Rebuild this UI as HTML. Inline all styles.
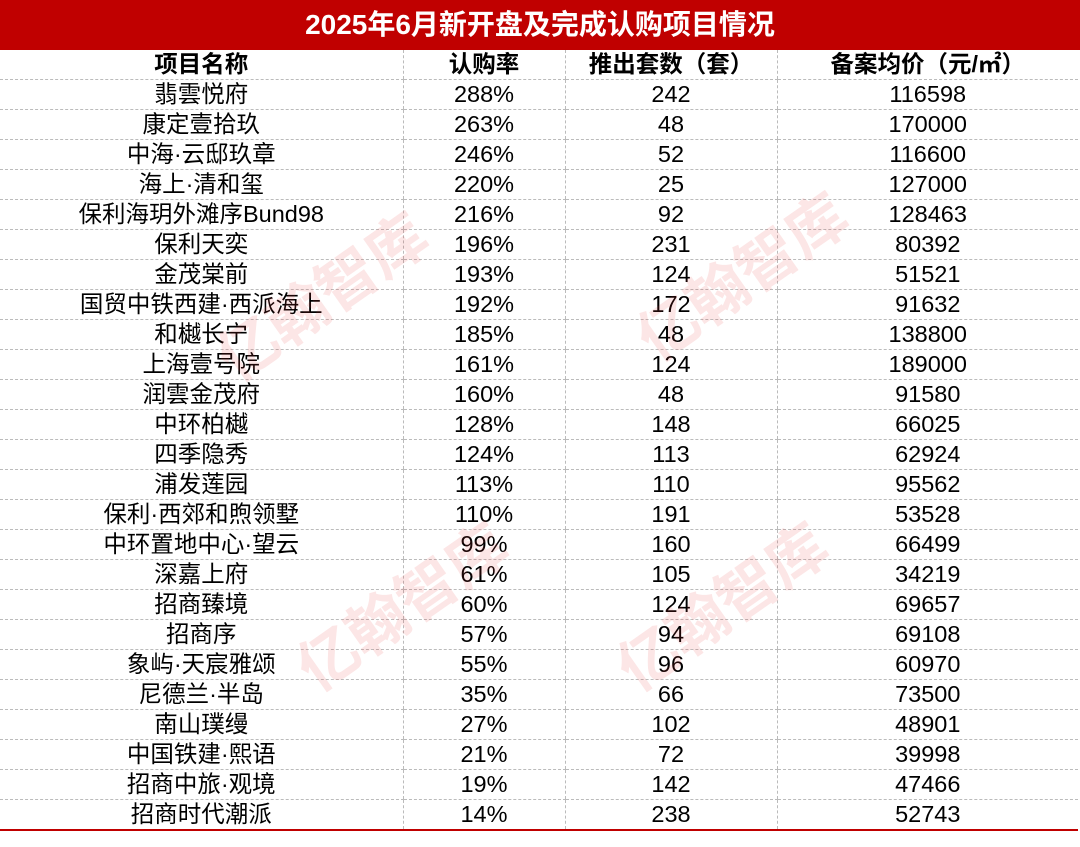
<!DOCTYPE html>
<html><head><meta charset="utf-8"><style>
body{margin:0;width:1080px;height:847px;background:#fff;overflow:hidden;position:relative;font-family:"Liberation Sans","Noto Sans CJK SC",sans-serif;}
.title{position:absolute;left:0;top:0;width:1080px;height:50px;background:#c00000;color:#fff;font-weight:bold;font-size:28px;line-height:50px;text-align:center;}
table{position:absolute;left:0;top:50px;border-collapse:collapse;width:1078px;table-layout:fixed;}
td{height:29px;padding:0;text-align:center;font-size:23.5px;line-height:29px;color:#000;border-bottom:1px dashed #bbb;border-left:1px dashed #bbb;white-space:nowrap;}
td:first-child{border-left:none;}
tr.h td{font-weight:bold;}
tr:last-child td{border-bottom:2px solid #c00000;}
.wm{position:absolute;color:rgba(230,60,60,0.13);font-weight:bold;font-size:60px;transform:rotate(-35deg);white-space:nowrap;pointer-events:none;}
</style></head><body>
<div class="title">2025年6月新开盘及完成认购项目情况</div>
<table>
<colgroup><col style="width:403px"><col style="width:162px"><col style="width:212px"><col style="width:301px"></colgroup>
<tr class="h"><td>项目名称</td><td>认购率</td><td>推出套数（套）</td><td>备案均价（元/㎡）</td></tr>
<tr><td>翡雲悦府</td><td>288%</td><td>242</td><td>116598</td></tr>
<tr><td>康定壹拾玖</td><td>263%</td><td>48</td><td>170000</td></tr>
<tr><td>中海·云邸玖章</td><td>246%</td><td>52</td><td>116600</td></tr>
<tr><td>海上·清和玺</td><td>220%</td><td>25</td><td>127000</td></tr>
<tr><td>保利海玥外滩序Bund98</td><td>216%</td><td>92</td><td>128463</td></tr>
<tr><td>保利天奕</td><td>196%</td><td>231</td><td>80392</td></tr>
<tr><td>金茂棠前</td><td>193%</td><td>124</td><td>51521</td></tr>
<tr><td>国贸中铁西建·西派海上</td><td>192%</td><td>172</td><td>91632</td></tr>
<tr><td>和樾长宁</td><td>185%</td><td>48</td><td>138800</td></tr>
<tr><td>上海壹号院</td><td>161%</td><td>124</td><td>189000</td></tr>
<tr><td>润雲金茂府</td><td>160%</td><td>48</td><td>91580</td></tr>
<tr><td>中环柏樾</td><td>128%</td><td>148</td><td>66025</td></tr>
<tr><td>四季隐秀</td><td>124%</td><td>113</td><td>62924</td></tr>
<tr><td>浦发莲园</td><td>113%</td><td>110</td><td>95562</td></tr>
<tr><td>保利·西郊和煦领墅</td><td>110%</td><td>191</td><td>53528</td></tr>
<tr><td>中环置地中心·望云</td><td>99%</td><td>160</td><td>66499</td></tr>
<tr><td>深嘉上府</td><td>61%</td><td>105</td><td>34219</td></tr>
<tr><td>招商臻境</td><td>60%</td><td>124</td><td>69657</td></tr>
<tr><td>招商序</td><td>57%</td><td>94</td><td>69108</td></tr>
<tr><td>象屿·天宸雅颂</td><td>55%</td><td>96</td><td>60970</td></tr>
<tr><td>尼德兰·半岛</td><td>35%</td><td>66</td><td>73500</td></tr>
<tr><td>南山璞缦</td><td>27%</td><td>102</td><td>48901</td></tr>
<tr><td>中国铁建·熙语</td><td>21%</td><td>72</td><td>39998</td></tr>
<tr><td>招商中旅·观境</td><td>19%</td><td>142</td><td>47466</td></tr>
<tr><td>招商时代潮派</td><td>14%</td><td>238</td><td>52743</td></tr>
</table>
<div class="wm" style="left:200px;top:250px;">亿翰智库</div>
<div class="wm" style="left:280px;top:560px;">亿翰智库</div>
<div class="wm" style="left:620px;top:230px;">亿翰智库</div>
<div class="wm" style="left:600px;top:560px;">亿翰智库</div>
</body></html>
